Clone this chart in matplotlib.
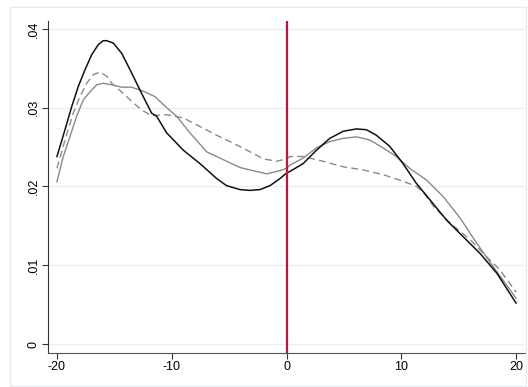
import numpy as np
import matplotlib
matplotlib.use("Agg")
import matplotlib.pyplot as plt
from matplotlib.patches import Rectangle

plt.rcParams["font.family"] = ["Liberation Sans", "DejaVu Sans"]

# black solid series
x_black = [-20, -19.3, -18.72, -18.14, -17.56, -16.98, -16.4, -15.97, -15.67, -15.09, -14.36,
           -13.49, -12.62, -11.75, -11.31, -10.44, -8.99, -7.54, -6.08, -5.22, -4.05, -3.18,
           -2.31, -1.44, -0.57, 0, 0.29, 1.45, 2.61, 3.77, 4.93, 6.09, 6.96, 7.83,
           8.99, 10.15, 11.31, 12.5, 13.96, 15.41, 16.86, 18.32, 20]
y_black = [0.0238, 0.0272, 0.0301, 0.0327, 0.0348, 0.0367, 0.0380, 0.0385, 0.0385, 0.0382, 0.0369,
           0.0344, 0.0318, 0.0293, 0.0289, 0.0268, 0.0246, 0.0229, 0.0210, 0.0201, 0.0196, 0.0195,
           0.0196, 0.0201, 0.0210, 0.0217, 0.0219, 0.0229, 0.0246, 0.0261, 0.0270, 0.0273, 0.0272, 0.0265,
           0.0251, 0.0229, 0.0204, 0.0183, 0.0157, 0.0136, 0.0115, 0.0090, 0.0052]

# gray solid series
x_gray = [-20, -19.45, -18.87, -18.29, -17.7, -17.12, -16.54, -15.97, -15.23, -14.36,
          -13.49, -12.33, -11.46, -10.74, -9.57, -8.41, -6.96, -5.51, -4.05, -2.6, -1.73,
          -0.57, 0, 0.29, 1.45, 2.61, 3.77, 4.93, 6.09, 7.25, 8.41, 9.57, 10.73, 12.21,
          13.66, 15.12, 16.57, 18.02, 19.47, 20]
y_gray = [0.0206, 0.0238, 0.0263, 0.0289, 0.0310, 0.0320, 0.0329, 0.0331, 0.0329, 0.0326,
          0.0326, 0.0320, 0.0314, 0.0304, 0.0289, 0.0268, 0.0244, 0.0234, 0.0224, 0.0219, 0.0216,
          0.0220, 0.0223, 0.0227, 0.0236, 0.0249, 0.0257, 0.0261, 0.0263, 0.0259, 0.0249, 0.0238,
          0.0223, 0.0208, 0.0187, 0.0160, 0.0128, 0.0098, 0.0069, 0.0058]

# gray dashed series
x_dash = [-20, -19.3, -18.58, -18.0, -17.41, -16.84, -16.25, -15.67, -15.23, -14.36,
          -13.49, -12.62, -11.75, -10.44, -8.99, -7.54, -6.08, -4.64, -3.18, -2.02, -0.86,
          0, 0.29, 1.45, 3.19, 4.93, 6.67, 8.41, 9.89, 11.34, 12.0, 12.85, 14.3, 16.04,
          17.15, 18.6, 20]
y_dash = [0.0223, 0.0259, 0.0293, 0.0314, 0.0331, 0.0342, 0.0345, 0.0340, 0.0331, 0.0320,
          0.0308, 0.0297, 0.0290, 0.0291, 0.0287, 0.0276, 0.0265, 0.0255, 0.0244, 0.0235, 0.0232,
          0.0235, 0.0238, 0.0238, 0.0232, 0.0225, 0.0221, 0.0215, 0.0208, 0.0200, 0.0191, 0.0174, 0.0153, 0.0132,
          0.0115, 0.0094, 0.0066]

cutoff = 0
xticks = [-20, -10, 0, 10, 20]
yticks = [0, 0.01, 0.02, 0.03, 0.04]
ytick_labels = ["0", ".01", ".02", ".03", ".04"]

fig = plt.figure(figsize=(5.28, 3.87), dpi=100)
fig.patches.append(Rectangle((10 / 528, 0.002), 516 / 528, 1 - 7 / 387 - 0.002,
                             transform=fig.transFigure, fill=False,
                             edgecolor="#e6eced", linewidth=1))
ax = fig.add_axes([48 / 528, 1 - 353 / 387, (525 - 48) / 528, (353 - 21) / 387])

ax.plot(x_dash, y_dash, color="#8a8a8a", lw=1.0, ls=(0, (5, 3)))
ax.plot(x_gray, y_gray, color="#8a8a8a", lw=1.0)
ax.plot(x_black, y_black, color="#111111", lw=1.1)
ax.axvline(cutoff, color="#c8103e", lw=1.6)

ax.set_xlim(-20.78, 20.78)
ax.set_ylim(-0.00114, 0.041)
ax.set_xticks(xticks)
ax.set_xticklabels([str(t) for t in xticks], fontsize=9)
ax.set_yticks(yticks)
ax.set_yticklabels(ytick_labels, fontsize=9, rotation=90, va="center")
ax.grid(axis="y", color="#e8f0f1", lw=1)
ax.set_axisbelow(True)
for s in ["top", "right"]:
    ax.spines[s].set_visible(False)
ax.spines["left"].set_color("#333333")
ax.spines["bottom"].set_color("#555555")
ax.tick_params(length=4, width=0.8, color="#333333", pad=2)

fig.savefig("out.png", dpi=100)
